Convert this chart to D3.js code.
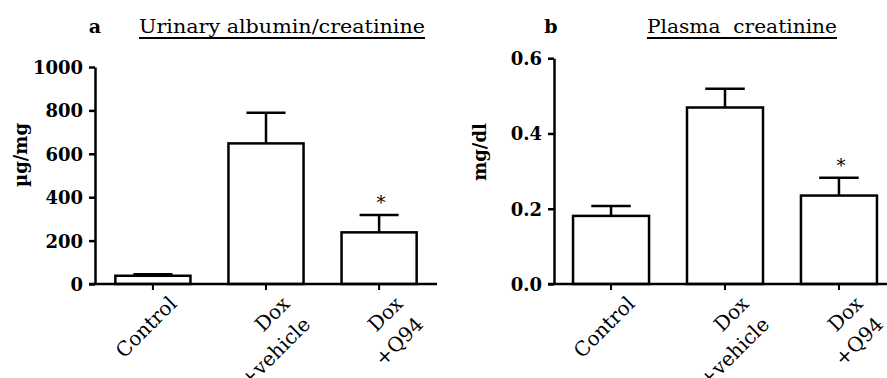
<!DOCTYPE html>
<html>
<head>
<meta charset="utf-8">
<script src="https://cdn.jsdelivr.net/npm/d3@7"></script>
<style>
  html, body { margin: 0; padding: 0; background: #fff; }
  svg { display: block; }
  text { font-family: "DejaVu Serif", "Liberation Serif", serif; fill: #000; }
</style>
</head>
<body>
<svg id="chart" width="887" height="378"></svg>
<script>
// ---- data ----
const categories = [["Control"], ["Dox", "+vehicle"], ["Dox", "+Q94"]];
const albuminMean = [38, 648, 238];
const albuminSEM = [7, 141, 80];
const creatinineMean = [0.181, 0.469, 0.235];
const creatinineSEM = [0.026, 0.050, 0.047];
const significance = ["", "", "*"];
const albuminTicks = [0, 200, 400, 600, 800, 1000];
const creatinineTicks = [0.0, 0.2, 0.4, 0.6];

const svg = d3.select("#chart");
const FS = 18;

function panel(opt) {
  const g = svg.append("g");
  const keys = categories.map((c, i) => i);
  const x = d3.scaleBand().domain(keys).range([opt.x0, opt.x1])
    .paddingInner(opt.pi).paddingOuter(opt.po);
  const y = d3.scaleLinear().domain([0, opt.max]).range([opt.y0, opt.yTop]);

  // letter & title
  g.append("text").attr("x", opt.letterX).attr("y", 33)
    .attr("text-anchor", "middle").attr("font-size", 19).attr("font-weight", "bold")
    .text(opt.letter);
  g.append("text").attr("x", opt.titleX).attr("y", 33)
    .attr("font-size", 19).attr("font-weight", "normal")
    .attr("textLength", opt.titleW).attr("lengthAdjust", "spacingAndGlyphs")
    .style("white-space", "pre")
    .text(opt.title);
  g.append("line").attr("x1", opt.titleX).attr("x2", opt.titleX + opt.titleW)
    .attr("y1", 38).attr("y2", 38).attr("stroke", "#000").attr("stroke-width", 2);

  // y label
  g.append("text").attr("transform", `translate(${opt.ylabX},${opt.ylabY}) rotate(-90)`)
    .attr("text-anchor", "middle").attr("font-size", 18).attr("font-weight", "bold")
    .text(opt.ylabel);

  // bars
  g.selectAll("rect.bar").data(opt.mean).join("rect")
    .attr("x", (d, i) => x(i)).attr("width", x.bandwidth())
    .attr("y", d => y(d)).attr("height", d => y(0) - y(d))
    .attr("fill", "#fff").attr("stroke", "#000").attr("stroke-width", 2.5);

  // error bars (upper)
  const capW = x.bandwidth() * 0.52;
  opt.mean.forEach((m, i) => {
    const cx = x(i) + x.bandwidth() / 2;
    const top = y(m + opt.sem[i]);
    g.append("line").attr("x1", cx).attr("x2", cx).attr("y1", y(m)).attr("y2", top)
      .attr("stroke", "#000").attr("stroke-width", 2.5);
    g.append("line").attr("x1", cx - capW / 2).attr("x2", cx + capW / 2)
      .attr("y1", top).attr("y2", top).attr("stroke", "#000").attr("stroke-width", 2.5);
    if (significance[i]) {
      g.append("text").attr("x", cx + 2).attr("y", top - 6)
        .attr("text-anchor", "middle").attr("font-size", 18).attr("font-weight", "normal")
        .text(significance[i]);
    }
  });

  // y axis
  const ya = g.append("g").attr("transform", `translate(${opt.x0},0)`)
    .call(d3.axisLeft(y).tickValues(opt.ticks).tickFormat(opt.fmt).tickSize(6).tickSizeOuter(0).tickPadding(6));
  ya.select(".domain").attr("stroke-width", 2.5);
  ya.selectAll(".tick line").attr("stroke-width", 2.5);
  ya.selectAll(".tick text").attr("font-family", '"DejaVu Serif", serif')
    .attr("font-size", FS).attr("font-weight", "bold").attr("fill", "#000")
    .attr("dy", "0.36em");

  // x axis
  const xa = g.append("g").attr("transform", `translate(0,${opt.y0})`)
    .call(d3.axisBottom(x).tickSize(6).tickSizeOuter(0).tickFormat(""));
  xa.select(".domain").attr("d", `M${opt.x0 - 6},0H${opt.x1}`).attr("stroke-width", 2.5);
  xa.selectAll(".tick line").attr("stroke-width", 2);

  // x labels rotated, lines right-aligned
  categories.forEach((lines, i) => {
    const cx = x(i) + x.bandwidth() / 2;
    const lg = g.append("g")
      .attr("transform", `translate(${cx + opt.ldx},${opt.y0 + opt.ldy}) rotate(-45)`);
    lines.forEach((ln, j) => lg.append("text")
      .attr("x", 0).attr("y", j * 29).attr("text-anchor", "end")
      .attr("font-size", 20).text(ln));
  });
}

panel({
  x0: 95, x1: 437, pi: 0.336, po: 0.18, y0: 284, yTop: 67, max: 1000,
  mean: albuminMean, sem: albuminSEM, ticks: albuminTicks, fmt: d3.format("d"),
  letter: "a", letterX: 95, title: "Urinary albumin/creatinine", titleX: 139, titleW: 286,
  ylabel: "µg/mg", ylabX: 27, ylabY: 155, ldx: 25, ldy: 21
});
panel({
  x0: 554, x1: 896, pi: 0.333, po: 0.167, y0: 284, yTop: 58.2, max: 0.6,
  mean: creatinineMean, sem: creatinineSEM, ticks: creatinineTicks, fmt: d3.format(".1f"),
  letter: "b", letterX: 551, title: "Plasma  creatinine", titleX: 647, titleW: 190,
  ylabel: "mg/dl", ylabX: 486, ylabY: 152, ldx: 25, ldy: 21
});
</script>
</body>
</html>
